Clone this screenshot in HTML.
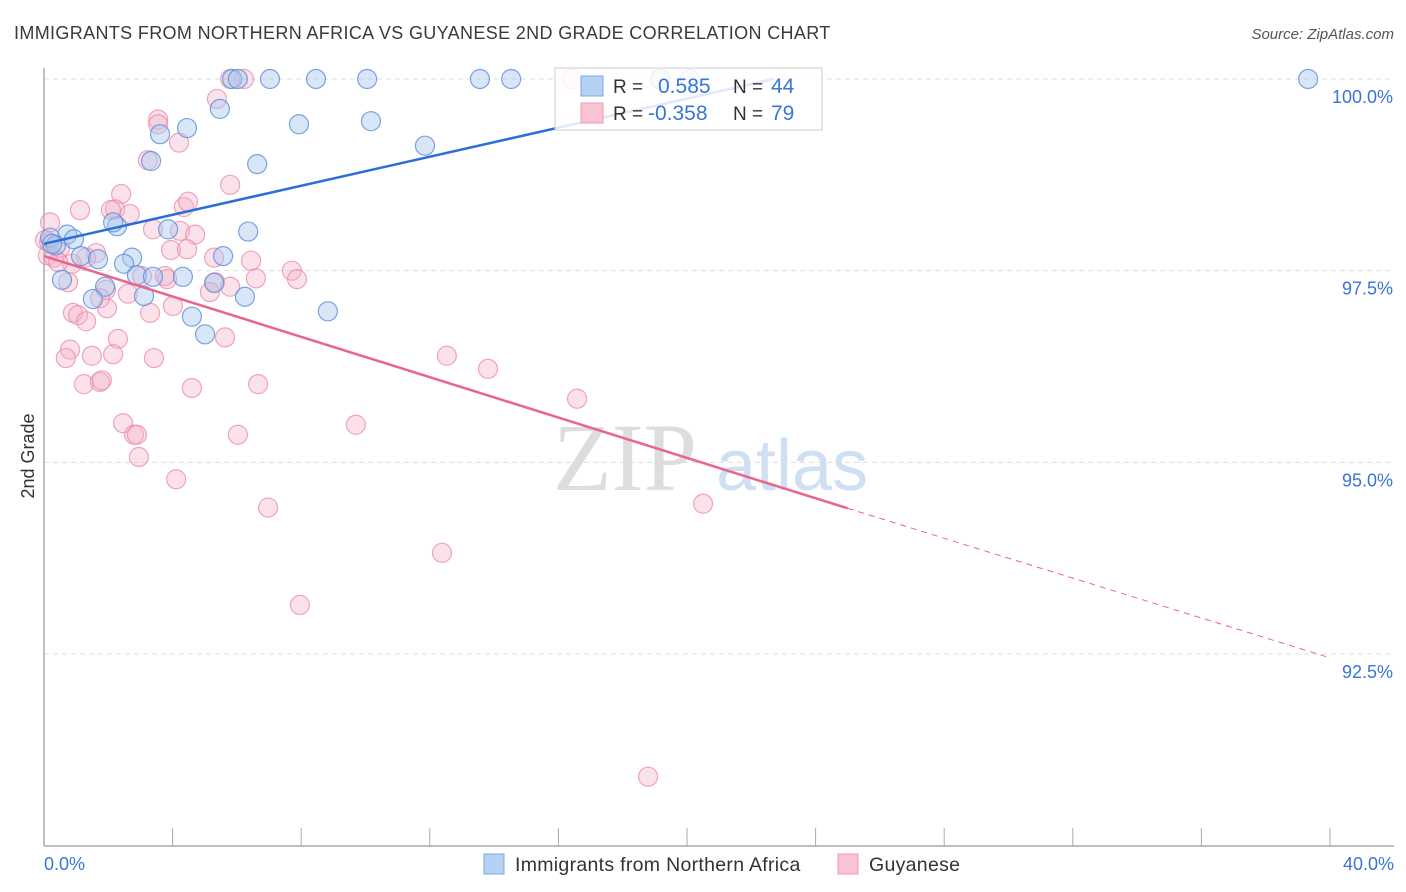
<!DOCTYPE html>
<html><head><meta charset="utf-8"><style>
body{margin:0;background:#fff;font-family:"Liberation Sans",sans-serif;}
svg{display:block}
</style></head><body>
<svg id="chart" width="1406" height="892">
<text x="14" y="39" font-size="18" fill="#3a3a3a" letter-spacing="0.35">IMMIGRANTS FROM NORTHERN AFRICA VS GUYANESE 2ND GRADE CORRELATION CHART</text>
<text x="1394" y="39" font-size="15" fill="#555" text-anchor="end" font-style="italic">Source: ZipAtlas.com</text>
<text transform="translate(34,456) rotate(-90)" font-size="18" fill="#333" text-anchor="middle">2nd Grade</text>
<g><text x="553" y="490" font-size="96" font-family="Liberation Serif,serif" fill="#ddd">ZIP</text><text x="716" y="490" font-size="72" fill="#cfe0f4">atlas</text></g>
<g id="grid"></g><g id="axes"></g><g id="pts"></g><g id="trend"></g>
<g>
<rect x="555" y="68" width="267" height="62" fill="#fff" fill-opacity="0.85" stroke="#ccc"/>
<rect x="581" y="76" width="22" height="20" fill="#b5d0f5" stroke="#7aa7e6"/>
<rect x="581" y="103" width="22" height="20" fill="#f8c4d3" stroke="#ee9ab4"/>
<text x="613" y="93" font-size="19" fill="#333">R =</text><text x="658" y="93" font-size="21" fill="#3a74d4">0.585</text>
<text x="733" y="93" font-size="19" fill="#333">N =</text><text x="771" y="93" font-size="21" fill="#3a74d4">44</text>
<text x="613" y="120" font-size="19" fill="#333">R =</text><text x="648" y="120" font-size="21" fill="#3a74d4">-0.358</text>
<text x="733" y="120" font-size="19" fill="#333">N =</text><text x="771" y="120" font-size="21" fill="#3a74d4">79</text>
</g>
<g>
<rect x="484" y="854" width="20" height="20" fill="#b5d0f5" stroke="#7aa7e6"/>
<text x="515" y="871" font-size="19.5" letter-spacing="0.3" fill="#333">Immigrants from Northern Africa</text>
<rect x="838" y="854" width="20" height="20" fill="#f8c4d3" stroke="#ee9ab4"/>
<text x="869" y="871" font-size="19.5" letter-spacing="0.3" fill="#333">Guyanese</text>
</g>
<text x="44" y="870" font-size="18" fill="#3a74d4">0.0%</text>
<text x="1394" y="870" font-size="18" fill="#3a74d4" text-anchor="end">40.0%</text>
</svg>
<script>
const yTicks=[100,97.5,95,92.5];
const yTickLabels=["100.0%","97.5%","95.0%","92.5%"];
const xTicks=[0,4,8,12,16,20,24,28,32,36,40];
const blueX=[5.85,6.03,7.03,8.46,10.05,13.56,14.53,19.16,20.09,39.32,5.47,3.61,4.45,7.93,10.17,11.85,3.33,6.63,2.27,2.15,3.86,6.35,0.72,0.93,0.19,0.37,0.25,1.15,1.68,2.74,2.49,5.57,2.89,3.39,4.32,5.29,0.56,1.90,1.52,3.11,6.25,8.83,4.60,5.01];
const blueY=[100,100,100,100,100,100,100,100,100,100,99.61,99.28,99.36,99.41,99.45,99.13,98.93,98.89,98.08,98.13,98.04,98.01,97.97,97.91,97.93,97.83,97.85,97.69,97.65,97.67,97.59,97.69,97.44,97.42,97.42,97.34,97.38,97.29,97.13,97.17,97.16,96.97,96.90,96.67];
const pinkX=[0.19,0.03,0.12,0.31,0.50,1.12,2.40,2.21,2.67,2.08,3.55,3.55,4.20,3.23,5.38,6.22,5.79,16.42,5.79,4.35,4.48,3.39,4.23,4.70,3.95,4.45,5.29,6.44,1.62,1.31,0.87,0.75,3.05,3.83,2.61,1.93,5.32,5.79,6.59,7.71,7.87,0.90,1.06,1.31,1.96,3.30,4.01,5.63,2.30,1.49,0.81,0.68,2.15,3.42,1.24,1.74,1.80,4.60,6.66,12.53,13.81,16.58,2.46,2.80,2.89,2.95,6.03,9.70,4.11,6.97,20.50,12.38,7.96,18.79,0.16,0.44,1.74,3.76,5.16];
const pinkY=[98.13,97.90,97.70,97.67,97.80,98.29,98.50,98.30,98.24,98.29,99.47,99.41,99.17,98.94,99.74,100,100,100,98.62,98.33,98.40,98.04,98.02,97.97,97.77,97.78,97.67,97.63,97.73,97.67,97.59,97.35,97.43,97.39,97.20,97.25,97.35,97.29,97.40,97.50,97.39,96.95,96.92,96.84,97.01,96.95,97.04,96.63,96.61,96.39,96.47,96.36,96.41,96.36,96.02,96.05,96.07,95.97,96.02,96.39,96.22,95.83,95.51,95.36,95.36,95.07,95.36,95.49,94.78,94.41,94.46,93.82,93.14,90.90,97.87,97.61,97.14,97.43,97.22];
const blueTrend=[[0,97.85],[22.7,100]];
const pinkTrend=[[0,97.69],[25.0,94.40],[40,92.45]];
const NS='http://www.w3.org/2000/svg';
const sx=v=>44+v/40*1286, sy=v=>79+(100-v)/10*766.7;
function mk(t,a,p){const e=document.createElementNS(NS,t);for(const k in a)e.setAttribute(k,a[k]);p.appendChild(e);return e;}
const grid=document.getElementById('grid'),axes=document.getElementById('axes'),pts=document.getElementById('pts'),tr=document.getElementById('trend');
yTicks.forEach((v,i)=>{const l=mk('line',{x1:44,x2:1394,y1:sy(v),y2:sy(v),stroke:'#ddd','stroke-dasharray':'5,4'},grid);


const t=mk('text',{x:1393,y:sy(v)+24,'font-size':18,fill:'#3a74d4','text-anchor':'end'},axes);t.textContent=yTickLabels[i];

});
const ya=mk('line',{x1:44,x2:44,y1:68,y2:846,stroke:'#aaa','stroke-width':1.5},axes);


const xa=mk('line',{x1:44,x2:1394,y1:846,y2:846,stroke:'#aaa','stroke-width':1.5},axes);


xTicks.forEach(v=>{const t=mk('line',{x1:sx(v),x2:sx(v),y1:828,y2:846,stroke:'#aaa'},axes);

});
pinkX.forEach((x,i)=>{const c=mk('circle',{cx:sx(x),cy:sy(pinkY[i]),r:9.5,fill:'#f5b3c7','fill-opacity':0.38,stroke:'#e98aa8','stroke-opacity':0.75,'stroke-width':1.2},pts);

});
blueX.forEach((x,i)=>{const c=mk('circle',{cx:sx(x),cy:sy(blueY[i]),r:9.5,fill:'#a9c8f0','fill-opacity':0.45,stroke:'#5b8fd8','stroke-opacity':0.8,'stroke-width':1.2},pts);

});
const bl=mk('line',{x1:sx(blueTrend[0][0]),y1:sy(blueTrend[0][1]),x2:sx(blueTrend[1][0]),y2:sy(blueTrend[1][1]),stroke:'#2b6fd6','stroke-width':2.5},tr);


const pl=mk('line',{x1:sx(pinkTrend[0][0]),y1:sy(pinkTrend[0][1]),x2:sx(pinkTrend[1][0]),y2:sy(pinkTrend[1][1]),stroke:'#e8658f','stroke-width':2.5},tr);


const pd=mk('line',{x1:sx(pinkTrend[1][0]),y1:sy(pinkTrend[1][1]),x2:sx(pinkTrend[2][0]),y2:sy(pinkTrend[2][1]),stroke:'#e8658f','stroke-width':1,'stroke-dasharray':'6,5'},tr);


</script>
</body></html>
